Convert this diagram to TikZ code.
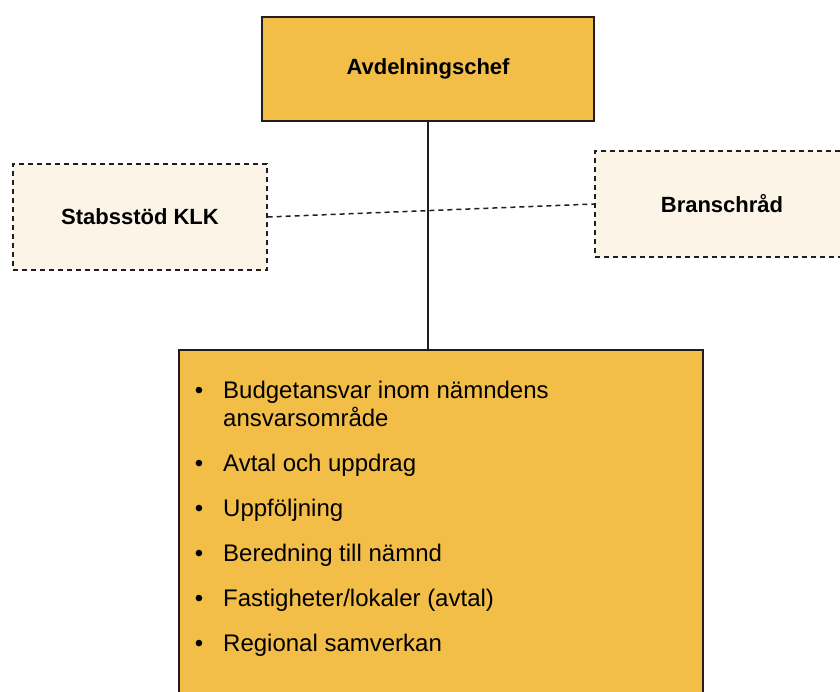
\documentclass[tikz,border=0pt]{standalone}
\usepackage{fontspec}
\setmainfont{Liberation Sans}
\definecolor{chefgold}{RGB}{242,190,72}
\definecolor{stabcream}{RGB}{251,244,231}
\definecolor{edge}{RGB}{35,28,28}
\begin{document}
\begin{tikzpicture}[x=1pt, y=-1pt,
        gold box/.style={draw=edge, fill=chefgold, line width=1.2pt},
        side box/.style={draw=edge, fill=stabcream, line width=1.2pt, dash pattern=on 5pt off 4pt,
            minimum width=254pt, minimum height=106pt, font=\bfseries\fontsize{22}{26}\selectfont}]
        \useasboundingbox (0, 0) rectangle (840, 691);
        \node[gold box, minimum width=332pt, minimum height=104pt, font=\bfseries\fontsize{22}{26}\selectfont] (chef) at (428, 69) {Avdelningschef};
        \node[side box] (stab) at (140, 217) {Stabsstöd KLK};
        \node[side box] (bransch) at (722, 204) {Branschråd};
        \node[gold box, minimum width=524pt, minimum height=370pt] (tasks) at (441, 535) {};
        \node[anchor=north west, text width=440pt, inner sep=0pt, align=flush left, font=\fontsize{24}{28}\selectfont] (duties) at (187, 370) {%
            \begin{list}{\textbullet}{\setlength{\leftmargin}{36pt}\setlength{\labelsep}{20pt}\setlength{\itemsep}{17pt}%
                \setlength{\topsep}{0pt}\setlength{\partopsep}{0pt}\setlength{\parsep}{0pt}}
                \raggedright
                \item Budgetansvar inom nämndens ansvarsområde
                \item Avtal och uppdrag
                \item Uppföljning
                \item Beredning till nämnd
                \item Fastigheter/lokaler (avtal)
                \item Regional samverkan
            \end{list}};
        \draw[edge, line width=1.1pt] (chef.south) -- (chef.south |- tasks.north);
        \draw[edge, line width=1.5pt, dash pattern=on 5pt off 4pt] (stab.east) -- (bransch.west);
    \end{tikzpicture}
\end{document}
